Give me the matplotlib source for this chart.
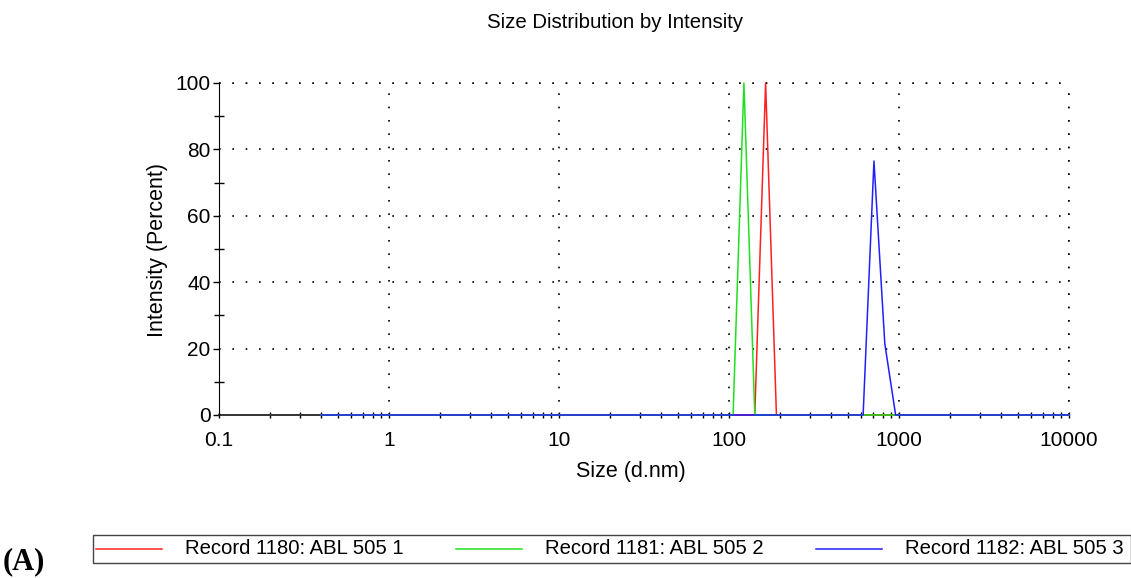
import matplotlib
matplotlib.use("Agg")
import matplotlib.pyplot as plt
from matplotlib.lines import Line2D
from matplotlib.patches import Rectangle
from matplotlib.ticker import FixedLocator, LogLocator, NullFormatter

plt.rcParams["font.family"] = ["Liberation Sans", "DejaVu Sans"]

# size bins (d.nm) and intensities (%) for each record; zero elsewhere
red_size = [0.4, 141.8, 164.2, 190.1, 10000]
red_int = [0, 0, 100, 0, 0]
green_size = [0.4, 105.7, 122.4, 141.8, 10000]
green_int = [0, 0, 100, 0, 0]
blue_size = [0.4, 615.1, 712.4, 825.0, 955.4, 10000]
blue_int = [0, 0, 76.5, 21.5, 0, 0]

labels = ["Record 1180: ABL 505 1", "Record 1181: ABL 505 2", "Record 1182: ABL 505 3"]
colors = ["#ff2020", "#20e020", "#2020ff"]

W, H = 1131, 578
fig = plt.figure(figsize=(W / 100, H / 100), dpi=100)
ax = fig.add_axes([219 / W, 1 - 415 / H, 850 / W, 332 / H])

for xs, ys, c in zip([red_size, green_size, blue_size],
                     [red_int, green_int, blue_int], colors):
    ax.plot(xs, ys, color=c, lw=1.1, zorder=3, clip_on=False)

ax.set_xscale("log")
ax.set_xlim(0.1, 10000)
ax.set_ylim(0, 100)
ax.xaxis.set_major_locator(FixedLocator([0.1, 1, 10, 100, 1000, 10000]))
ax.set_xticklabels(["0.1", "1", "10", "100", "1000", "10000"])
ax.xaxis.set_minor_locator(LogLocator(base=10, subs=range(2, 10)))
ax.xaxis.set_minor_formatter(NullFormatter())
ax.set_yticks([0, 20, 40, 60, 80, 100])
ax.set_yticks([10, 30, 50, 70, 90], minor=True)

ax.tick_params(which="both", labelsize=15, colors="black", width=1)
ax.tick_params(axis="y", which="major", direction="out", length=4, pad=2)
ax.tick_params(axis="y", which="minor", direction="inout", length=7)
ax.tick_params(axis="x", which="major", direction="inout", length=5, pad=9)
ax.tick_params(axis="x", which="minor", direction="inout", length=4)

ax.spines["top"].set_visible(False)
ax.spines["right"].set_visible(False)
ax.spines["bottom"].set_color("#333333")
ax.spines["bottom"].set_linewidth(1.4)
ax.spines["bottom"].set_zorder(2)
ax.grid(True, which="major", linestyle=(0, (1, 7)), color="black", lw=1.2)
# closing dotted edges at top and right
ax.axhline(100, linestyle=(0, (1, 7)), color="black", lw=1.2, clip_on=False)
ax.axvline(10000, linestyle=(0, (1, 7)), color="black", lw=1.2, clip_on=False)

ax.set_xlabel("Size (d.nm)", fontsize=15.5)
ax.xaxis.set_label_coords(0.5 + (631 - 644) / 850, -(472 - 415) / 332)
ax.xaxis.label.set_va("center")
ax.set_ylabel("Intensity (Percent)", fontsize=15.5)
ax.yaxis.set_label_coords(-(219 - 157) / 850, 0.5 + (249 - 250) / 332)
ax.yaxis.label.set_va("center")
fig.text(615 / W, 1 - 22 / H, "Size Distribution by Intensity", ha="center", va="center", fontsize=14.7)

# legend box along the bottom
fig.add_artist(Rectangle((93 / W, 1 - 563 / H), (W - 93) / W, 28 / H, transform=fig.transFigure,
                         fill=False, edgecolor="#444444", lw=1))
for i, (lab, c) in enumerate(zip(labels, colors)):
    x0 = 96 + 360 * i
    fig.add_artist(Line2D([x0 / W, (x0 + 66) / W], [1 - 549 / H] * 2, color=c, lw=1.1,
                          transform=fig.transFigure))
    fig.text((x0 + 89) / W, 1 - 549 / H, lab, ha="left", va="center", fontsize=14.6)

fig.text(3 / W, 1 - 562 / H, "(A)", ha="left", va="center", fontsize=22, fontweight="bold",
         family=["Liberation Serif", "DejaVu Serif"])

fig.savefig("out.png", dpi=100)
